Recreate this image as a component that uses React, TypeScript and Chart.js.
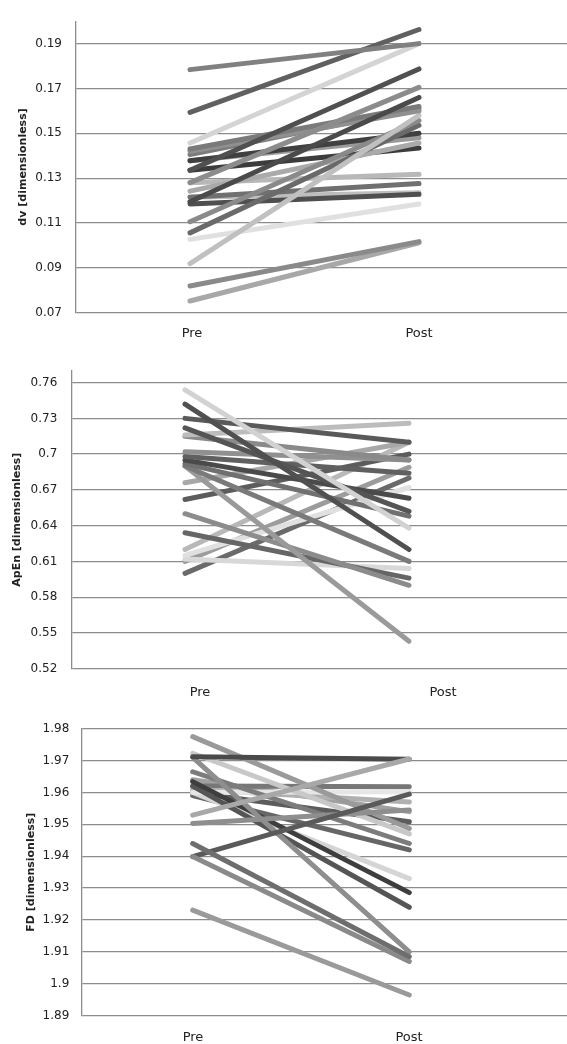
import React, { useEffect, useRef } from 'react';
import { Chart, registerables } from 'chart.js';

Chart.register(...registerables);

const phases = ['Pre', 'Post'];

// dv panel
const dvTicks = [0.07, 0.09, 0.11, 0.13, 0.15, 0.17, 0.19];
const dvPre = [0.1784, 0.1593, 0.1457, 0.1335, 0.128, 0.1195, 0.143, 0.142, 0.0919, 0.1106, 0.1056, 0.1378, 0.1378, 0.1242, 0.1335, 0.128, 0.1215, 0.1185, 0.1215, 0.1027, 0.0819, 0.0752, 0.1405];
const dvPost = [0.19, 0.1963, 0.19, 0.1787, 0.1705, 0.166, 0.162, 0.16, 0.158, 0.1557, 0.1536, 0.15, 0.148, 0.1457, 0.1435, 0.1317, 0.1276, 0.1228, 0.1235, 0.1185, 0.1017, 0.1012, 0.161];
const dvColors = ['#808080', '#606060', '#d4d4d4', '#505050', '#8c8c8c', '#4a4a4a', '#7a7a7a', '#909090', '#c0c0c0', '#8a8a8a', '#6a6a6a', '#404040', '#9a9a9a', '#aaaaaa', '#3c3c3c', '#b8b8b8', '#707070', '#4f4f4f', '#bdbdbd', '#e0e0e0', '#8a8a8a', '#a8a8a8', '#7c7c7c'];

// ApEn panel
const apTicks = [0.52, 0.55, 0.58, 0.61, 0.64, 0.67, 0.7, 0.73, 0.76];
const apPre = [0.754, 0.742, 0.73, 0.722, 0.716, 0.715, 0.702, 0.698, 0.695, 0.692, 0.69, 0.69, 0.676, 0.662, 0.65, 0.634, 0.62, 0.615, 0.612, 0.61, 0.6];
const apPost = [0.638, 0.62, 0.71, 0.652, 0.726, 0.695, 0.695, 0.684, 0.663, 0.648, 0.61, 0.543, 0.71, 0.7, 0.59, 0.596, 0.71, 0.672, 0.604, 0.689, 0.68];
const apColors = ['#d2d2d2', '#505050', '#5a5a5a', '#555555', '#bcbcbc', '#8a8a8a', '#909090', '#606060', '#4a4a4a', '#707070', '#7a7a7a', '#9a9a9a', '#a8a8a8', '#5c5c5c', '#8c8c8c', '#666666', '#b8b8b8', '#e0e0e0', '#d8d8d8', '#9c9c9c', '#6a6a6a'];

// FD panel
const fdTicks = [1.89, 1.9, 1.91, 1.92, 1.93, 1.94, 1.95, 1.96, 1.97, 1.98];
const fdPre = [1.9231, 1.944, 1.9399, 1.9399, 1.9503, 1.9529, 1.9712, 1.9775, 1.9723, 1.971, 1.9665, 1.9634, 1.962, 1.96, 1.96, 1.961, 1.96, 1.959, 1.962, 1.964];
const fdPost = [1.8965, 1.9085, 1.907, 1.9595, 1.9545, 1.9705, 1.9704, 1.9487, 1.947, 1.91, 1.944, 1.9286, 1.924, 1.9602, 1.933, 1.957, 1.9508, 1.942, 1.9618, 1.954];
const fdColors = ['#9a9a9a', '#6e6e6e', '#8a8a8a', '#5a5a5a', '#8e8e8e', '#a8a8a8', '#4a4a4a', '#9a9a9a', '#c8c8c8', '#8e8e8e', '#7c7c7c', '#3e3e3e', '#555555', '#e6e6e6', '#d5d5d5', '#b0b0b0', '#5c5c5c', '#666666', '#777777', '#a0a0a0'];

const W = 567;
const FONT = 'DejaVu Sans';

type Panel = {
  top: number; height: number; left: number; areaTop: number; areaBottom: number;
  yMin: number; yMax: number; ticks: number[]; title: string; titlePad: number;
  tickPad: number; labelPad: number; dataPx: [number, number]; labelPx: [number, number];
  pre: number[]; post: number[]; colors: string[];
};

const panels: Panel[] = [
  { top: 0, height: 345, left: 76, areaTop: 10.4, areaBottom: 312.7, yMin: 0.07, yMax: 0.2, ticks: dvTicks,
    title: 'dv [dimensionless]', titlePad: 16.4, tickPad: 14, labelPad: 13.5, dataPx: [190, 419], labelPx: [192, 419],
    pre: dvPre, post: dvPost, colors: dvColors },
  { top: 345, height: 355, left: 71.3, areaTop: 25.7, areaBottom: 323.7, yMin: 0.52, yMax: 0.77, ticks: apTicks,
    title: 'ApEn [dimensionless]', titlePad: 11, tickPad: 14, labelPad: 16, dataPx: [185, 409], labelPx: [200, 443],
    pre: apPre, post: apPost, colors: apColors },
  { top: 700, height: 344, left: 82, areaTop: 28.7, areaBottom: 315.7, yMin: 1.89, yMax: 1.98, ticks: fdTicks,
    title: 'FD [dimensionless]', titlePad: 25, tickPad: 12.7, labelPad: 14, dataPx: [192.7, 409.3], labelPx: [193, 409],
    pre: fdPre, post: fdPost, colors: fdColors },
];

function range(p: Panel, px: [number, number]) {
  const areaW = W - p.left;
  const span = px[1] - px[0];
  const min = 1 - (px[0] - p.left) / span;
  return { min, max: min + areaW / span };
}

function PanelChart({ p }: { p: Panel }) {
  const ref = useRef<HTMLCanvasElement>(null);
  useEffect(() => {
    if (!ref.current) return;
    const dx = range(p, p.dataPx);
    const lx = range(p, p.labelPx);
    const datasets = p.pre.map((v, i) => ({
      data: [{ x: 1, y: v }, { x: 2, y: p.post[i] }],
      borderColor: p.colors[i],
      backgroundColor: p.colors[i],
      borderWidth: 5,
      borderCapStyle: 'round' as const,
      pointRadius: 0,
      fill: false,
      tension: 0,
      xAxisID: 'x',
      yAxisID: 'y',
    }));
    const chart = new Chart(ref.current, {
      type: 'line',
      data: { datasets },
      options: {
        animation: false,
        responsive: false,
        events: [],
        layout: { padding: { top: p.areaTop, left: 0, right: 0, bottom: 0 } },
        plugins: { legend: { display: false }, tooltip: { enabled: false } },
        scales: {
          x: { type: 'linear', display: false, min: dx.min, max: dx.max },
          xl: {
            type: 'linear', position: 'bottom', min: lx.min, max: lx.max,
            grid: { display: false, drawTicks: false }, border: { display: false },
            afterBuildTicks: (s: any) => { s.ticks = phases.map((_, i) => ({ value: i + 1 })); },
            afterFit: (s: any) => { s.height = p.height - p.areaBottom; },
            ticks: {
              autoSkip: false, maxRotation: 0, padding: p.labelPad, color: '#222',
              font: { family: FONT, size: 13 },
              callback: (v: any) => phases[Math.round(Number(v)) - 1] ?? '',
            },
          },
          y: {
            type: 'linear', position: 'left', min: p.yMin, max: p.yMax,
            afterBuildTicks: (s: any) => { s.ticks = p.ticks.map((v) => ({ value: v })); },
            afterFit: (s: any) => { s.width = p.left; },
            grid: { color: '#8c8c8c', lineWidth: 1.3, drawTicks: false },
            border: { display: true, color: '#8c8c8c', width: 1.3 },
            ticks: {
              autoSkip: false, padding: p.tickPad, color: '#222',
              font: { family: FONT, size: 12 },
              callback: (v: any) => String(v),
            },
            title: {
              display: true, text: p.title, color: '#222',
              font: { family: FONT, size: 11, weight: 'bold' },
              padding: { top: p.titlePad, bottom: 0 },
            },
          },
        },
      } as any,
    });
    return () => chart.destroy();
  }, [p]);
  return (
    <canvas
      ref={ref}
      width={W}
      height={p.height}
      style={{ position: 'absolute', left: 0, top: p.top, width: W, height: p.height }}
    />
  );
}

export default function App() {
  return (
    <div style={{ position: 'absolute', left: 0, top: 0, width: W, height: 1044, background: '#fff' }}>
      {panels.map((p, i) => <PanelChart key={i} p={p} />)}
    </div>
  );
}
